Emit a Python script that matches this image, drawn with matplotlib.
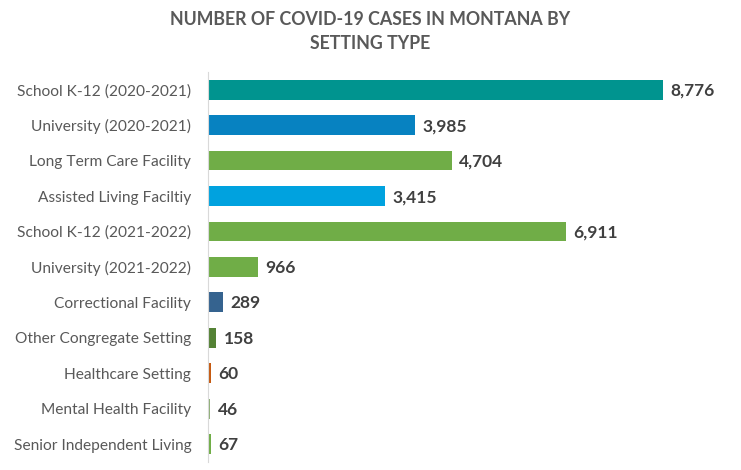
import matplotlib
matplotlib.use("Agg")
import matplotlib.pyplot as plt

categories = ["School K-12 (2020-2021)", "University (2020-2021)", "Long Term Care Facility",
              "Assisted Living Faciltiy", "School K-12 (2021-2022)", "University (2021-2022)",
              "Correctional Facility", "Other Congregate Setting", "Healthcare Setting",
              "Mental Health Facility", "Senior Independent Living"]
cases = [8776, 3985, 4704, 3415, 6911, 966, 289, 158, 60, 46, 67]
colors = ["#00948F", "#0782C1", "#70AD47", "#00A2DF", "#70AD47", "#70AD47",
          "#35638F", "#548235", "#C55A11", "#8FAF78", "#70AD47"]

plt.rcParams["font.family"] = ["Lato", "DejaVu Sans"]

fig = plt.figure(figsize=(7.41, 4.70), dpi=100)
ax = fig.add_axes([0.2807, 0.017, 0.70, 0.830])
y = list(range(len(categories)))
ax.barh(y, cases, height=0.56, color=colors)
ax.set_ylim(len(categories) - 0.5, -0.5)
ax.set_xlim(0, 10000)
ax.set_yticks(y)
ax.set_yticklabels(categories, fontsize=11.2, color="#595959")
ax.tick_params(axis="y", length=0, pad=12)
ax.set_xticks([])
for s in ["top", "right", "bottom"]:
    ax.spines[s].set_visible(False)
ax.spines["left"].set_color("#D9D9D9")
for yi, v in zip(y, cases):
    ax.text(v + 140, yi + 0.03, f"{v:,}", va="center", ha="left",
            fontsize=12.5, fontweight="bold", color="#404040")

fig.text(0.5, 0.933, "NUMBER OF COVID-19 CASES IN MONTANA BY\nSETTING TYPE", ha="center",
         va="center", fontsize=12.8, fontweight="bold", color="#595959", linespacing=1.45)

fig.savefig("out.png", dpi=100)
